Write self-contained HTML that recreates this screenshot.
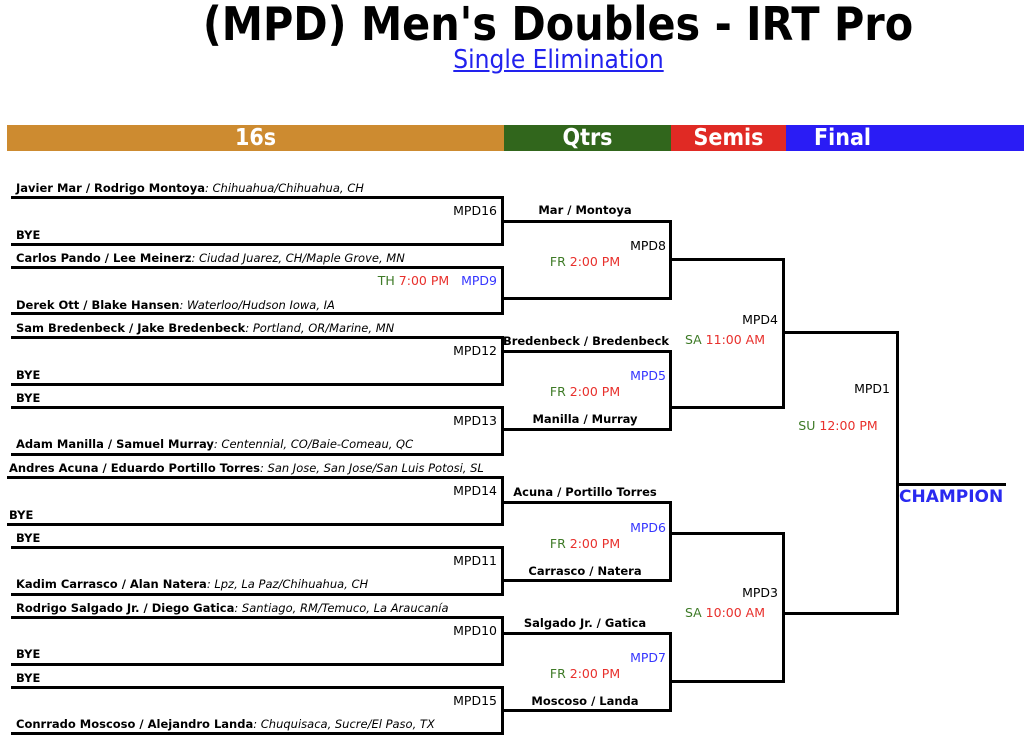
<!DOCTYPE html>
<html><head><meta charset="utf-8">
<style>
body{margin:0;width:1024px;height:745px;background:#fff;position:relative;overflow:hidden;font-family:"DejaVu Sans","Liberation Sans",sans-serif;}
.b{position:absolute;box-sizing:border-box;border:3px solid #000;border-left:none;}
.h{position:absolute;height:3px;background:#000;}
.t{position:absolute;white-space:nowrap;font-size:12px;line-height:14px;color:#000;}
.n{font-weight:bold;font-size:11.5px;}
.n i{font-weight:normal;}
.r{text-align:right;}
.c{text-align:center;}
.m{font-size:12.5px;}
.g{color:#3d7a26}.rd{color:#e8302c}.bl{color:#3535ff}
.bar{position:absolute;top:125px;height:26px;color:#fff;font-weight:bold;font-size:23px;line-height:27px;font-family:"DejaVu Sans Condensed","DejaVu Sans",sans-serif;font-stretch:condensed;}
</style></head><body>
<div style="position:absolute;left:0;width:1116px;top:-3px;text-align:center;font-weight:bold;font-size:46px;line-height:54px;font-family:'DejaVu Sans Condensed','DejaVu Sans',sans-serif;font-stretch:condensed;">(MPD) Men's Doubles - IRT Pro</div>
<div style="position:absolute;left:0;width:1117px;top:45px;text-align:center;font-size:26px;line-height:30px;font-family:'DejaVu Sans Condensed','DejaVu Sans',sans-serif;font-stretch:condensed;"><span style="color:#2222ee;text-decoration:underline;">Single Elimination</span></div>

<div class="bar" style="left:7px;width:497px;background:#cd8b30;text-align:center;">16s</div>
<div class="bar" style="left:504px;width:167px;background:#31661c;text-align:center;">Qtrs</div>
<div class="bar" style="left:671px;width:115px;background:#e02a24;text-align:center;">Semis</div>
<div class="bar" style="left:786px;width:238px;background:#2a1cf5;"><span style="position:absolute;left:28px;">Final</span></div>

<!-- round 1 boxes -->
<div class="b" style="left:11px;top:196px;width:493px;height:50px"></div>
<div class="b" style="left:11px;top:266px;width:493px;height:49px"></div>
<div class="b" style="left:11px;top:336px;width:493px;height:50px"></div>
<div class="b" style="left:11px;top:406px;width:493px;height:50px"></div>
<div class="b" style="left:7px;top:476px;width:497px;height:50px"></div>
<div class="b" style="left:11px;top:546px;width:493px;height:50px"></div>
<div class="b" style="left:11px;top:616px;width:493px;height:50px"></div>
<div class="b" style="left:11px;top:686px;width:493px;height:49px"></div>
<!-- round 2 -->
<div class="b" style="left:503px;top:220px;width:169px;height:80px"></div>
<div class="b" style="left:503px;top:350px;width:169px;height:81px"></div>
<div class="b" style="left:503px;top:501px;width:169px;height:81px"></div>
<div class="b" style="left:503px;top:632px;width:169px;height:80px"></div>
<!-- round 3 -->
<div class="b" style="left:670px;top:258px;width:115px;height:151px"></div>
<div class="b" style="left:670px;top:532px;width:115px;height:151px"></div>
<!-- final -->
<div class="b" style="left:783px;top:331px;width:116px;height:284px"></div>
<div class="h" style="left:897px;top:483px;width:109px"></div>

<!-- round 1 text -->
<div class="t n" style="left:16px;top:181px">Javier Mar / Rodrigo Montoya<i>: Chihuahua/Chihuahua, CH</i></div>
<div class="t m r" style="left:300px;width:197px;top:204px">MPD16</div>
<div class="t n" style="left:16px;top:228px">BYE</div>
<div class="t n" style="left:16px;top:251px">Carlos Pando / Lee Meinerz<i>: Ciudad Juarez, CH/Maple Grove, MN</i></div>
<div class="t m r" style="left:300px;width:197px;top:274px"><span class="g">TH</span> <span class="rd">7:00 PM</span>&nbsp;&nbsp;&nbsp;<span class="bl">MPD9</span></div>
<div class="t n" style="left:16px;top:298px">Derek Ott / Blake Hansen<i>: Waterloo/Hudson Iowa, IA</i></div>
<div class="t n" style="left:16px;top:321px">Sam Bredenbeck / Jake Bredenbeck<i>: Portland, OR/Marine, MN</i></div>
<div class="t m r" style="left:300px;width:197px;top:344px">MPD12</div>
<div class="t n" style="left:16px;top:368px">BYE</div>
<div class="t n" style="left:16px;top:391px">BYE</div>
<div class="t m r" style="left:300px;width:197px;top:414px">MPD13</div>
<div class="t n" style="left:16px;top:437px">Adam Manilla / Samuel Murray<i>: Centennial, CO/Baie-Comeau, QC</i></div>
<div class="t n" style="left:9px;top:461px">Andres Acuna / Eduardo Portillo Torres<i>: San Jose, San Jose/San Luis Potosi, SL</i></div>
<div class="t m r" style="left:300px;width:197px;top:484px">MPD14</div>
<div class="t n" style="left:9px;top:508px">BYE</div>
<div class="t n" style="left:16px;top:531px">BYE</div>
<div class="t m r" style="left:300px;width:197px;top:554px">MPD11</div>
<div class="t n" style="left:16px;top:577px">Kadim Carrasco / Alan Natera<i>: Lpz, La Paz/Chihuahua, CH</i></div>
<div class="t n" style="left:16px;top:601px">Rodrigo Salgado Jr. / Diego Gatica<i>: Santiago, RM/Temuco, La Araucanía</i></div>
<div class="t m r" style="left:300px;width:197px;top:624px">MPD10</div>
<div class="t n" style="left:16px;top:647px">BYE</div>
<div class="t n" style="left:16px;top:671px">BYE</div>
<div class="t m r" style="left:300px;width:197px;top:694px">MPD15</div>
<div class="t n" style="left:16px;top:717px">Conrrado Moscoso / Alejandro Landa<i>: Chuquisaca, Sucre/El Paso, TX</i></div>

<!-- round 2 text -->
<div class="t n c" style="left:504px;width:162px;top:203px">Mar / Montoya</div>
<div class="t m r" style="left:504px;width:162px;top:239px">MPD8</div>
<div class="t m c" style="left:504px;width:162px;top:255px"><span class="g">FR</span> <span class="rd">2:00 PM</span></div>

<div class="t n c" style="left:500px;width:172px;top:334px">Bredenbeck / Bredenbeck</div>
<div class="t m r bl" style="left:504px;width:162px;top:369px">MPD5</div>
<div class="t m c" style="left:504px;width:162px;top:385px"><span class="g">FR</span> <span class="rd">2:00 PM</span></div>
<div class="t n c" style="left:504px;width:162px;top:412px">Manilla / Murray</div>

<div class="t n c" style="left:504px;width:162px;top:485px">Acuna / Portillo Torres</div>
<div class="t m r bl" style="left:504px;width:162px;top:521px">MPD6</div>
<div class="t m c" style="left:504px;width:162px;top:537px"><span class="g">FR</span> <span class="rd">2:00 PM</span></div>
<div class="t n c" style="left:504px;width:162px;top:564px">Carrasco / Natera</div>

<div class="t n c" style="left:504px;width:162px;top:616px">Salgado Jr. / Gatica</div>
<div class="t m r bl" style="left:504px;width:162px;top:651px">MPD7</div>
<div class="t m c" style="left:504px;width:162px;top:667px"><span class="g">FR</span> <span class="rd">2:00 PM</span></div>
<div class="t n c" style="left:504px;width:162px;top:694px">Moscoso / Landa</div>

<!-- round 3 text -->
<div class="t m r" style="left:672px;width:106px;top:313px">MPD4</div>
<div class="t m c" style="left:672px;width:106px;top:333px"><span class="g">SA</span> <span class="rd">11:00 AM</span></div>
<div class="t m r" style="left:672px;width:106px;top:586px">MPD3</div>
<div class="t m c" style="left:672px;width:106px;top:606px"><span class="g">SA</span> <span class="rd">10:00 AM</span></div>

<!-- final text -->
<div class="t m r" style="left:785px;width:105px;top:382px">MPD1</div>
<div class="t m c" style="left:785px;width:106px;top:419px"><span class="g">SU</span> <span class="rd">12:00 PM</span></div>
<div class="t" style="left:899px;top:488px;font-weight:bold;font-size:17px;line-height:19px;color:#2a2af0;">CHAMPION</div>
</body></html>
